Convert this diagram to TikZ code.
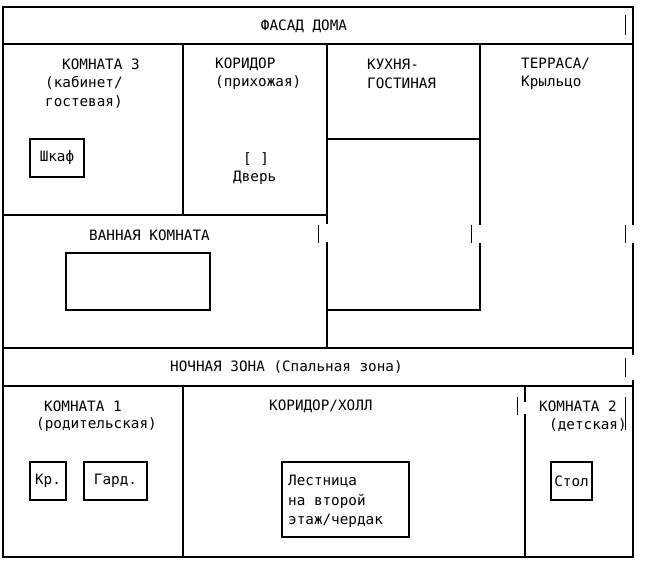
\documentclass[tikz,border=0pt]{standalone}
\usepackage{fontspec}
\setmonofont{DejaVu Sans Mono}
\begin{document}
\begin{tikzpicture}[x=1pt,y=-1pt,
  wall/.style={line width=1.1pt,black},
  tick/.style={line width=0.9pt,black},
  lbl/.style={font=\ttfamily\fontsize{14.3}{19}\selectfont,inner sep=0pt,anchor=west},
  box/.style={draw,line width=1.1pt,inner sep=0pt}]
\useasboundingbox (0,0) rectangle (652,573);
% outer walls
\draw[wall] (3,225) -- (3,7) -- (633,7) -- (633,225);
\draw[wall] (633,243) -- (633,355);
\draw[wall] (633,380) -- (633,557) -- (3,557) -- (3,225);
\draw[wall] (3,44) -- (633,44);
\draw[wall] (3,348) -- (633,348);
\draw[wall] (3,386) -- (633,386);
% upper rooms
\draw[wall] (183,44) -- (183,215);
\draw[wall] (3,215) -- (327,215);
\draw[wall] (327,44) -- (327,224) (327,242) -- (327,348);
\draw[wall] (327,139) -- (480,139);
\draw[wall] (480,44) -- (480,225) (480,243) -- (480,310) -- (327,310);
% lower rooms
\draw[wall] (183,386) -- (183,557);
\draw[wall] (525,386) -- (525,402) (525,414) -- (525,557);
% ticks
\draw[tick] (625,15) -- (625,35);
\draw[tick] (625,225) -- (625,243);
\draw[tick] (318,225) -- (318,243);
\draw[tick] (471,225) -- (471,243);
\draw[tick] (625,358) -- (625,377);
\draw[tick] (625,397) -- (625,430);
\draw[tick] (517,397) -- (517,415);
% boxes
\node[box,minimum width=54pt,minimum height=38pt] (shkaf) at (57,158) {};
\node[lbl,anchor=center] at (shkaf) {Шкаф};
\node[box,minimum width=144pt,minimum height=57pt] (bath) at (138,281.5) {};
\node[box,minimum width=36pt,minimum height=38pt] (kr) at (48,481) {};
\node[lbl,anchor=center] at (kr) {Кр.};
\node[box,minimum width=63pt,minimum height=38pt] (gard) at (115.5,481) {};
\node[lbl,anchor=center] at (gard) {Гард.};
\node[box,minimum width=127pt,minimum height=75pt] (stair) at (345.5,499.5) {};
\node[lbl] at (288,481) {Лестница};
\node[lbl] at (288,501) {на второй};
\node[lbl] at (288,521) {этаж/чердак};
\node[box,minimum width=41pt,minimum height=38pt] (stol) at (571.5,481) {};
\node[lbl,anchor=center] at (stol) {Стол};
% labels
\node[lbl,anchor=center] at (304,26) {ФАСАД ДОМА};
\node[lbl] at (62,64) {КОМНАТА 3};
\node[lbl] at (45,83) {(кабинет/};
\node[lbl] at (45,102) {гостевая)};
\node[lbl] at (215,64) {КОРИДОР};
\node[lbl] at (215,83) {(прихожая)};
\node[lbl] at (243,159) {[ ]};
\node[lbl] at (233,178) {Дверь};
\node[lbl] at (367,64) {КУХНЯ-};
\node[lbl] at (367,83) {ГОСТИНАЯ};
\node[lbl] at (521,64) {ТЕРРАСА/};
\node[lbl] at (521,83) {Крыльцо};
\node[lbl] at (89,235) {ВАННАЯ КОМНАТА};
\node[lbl] at (170,367) {НОЧНАЯ ЗОНА (Спальная зона)};
\node[lbl] at (44,406) {КОМНАТА 1};
\node[lbl] at (36,425) {(родительская)};
\node[lbl] at (269,406) {КОРИДОР/ХОЛЛ};
\node[lbl] at (539,406) {КОМНАТА 2};
\node[lbl] at (549,425) {(детская)};
\end{tikzpicture}
\end{document}
